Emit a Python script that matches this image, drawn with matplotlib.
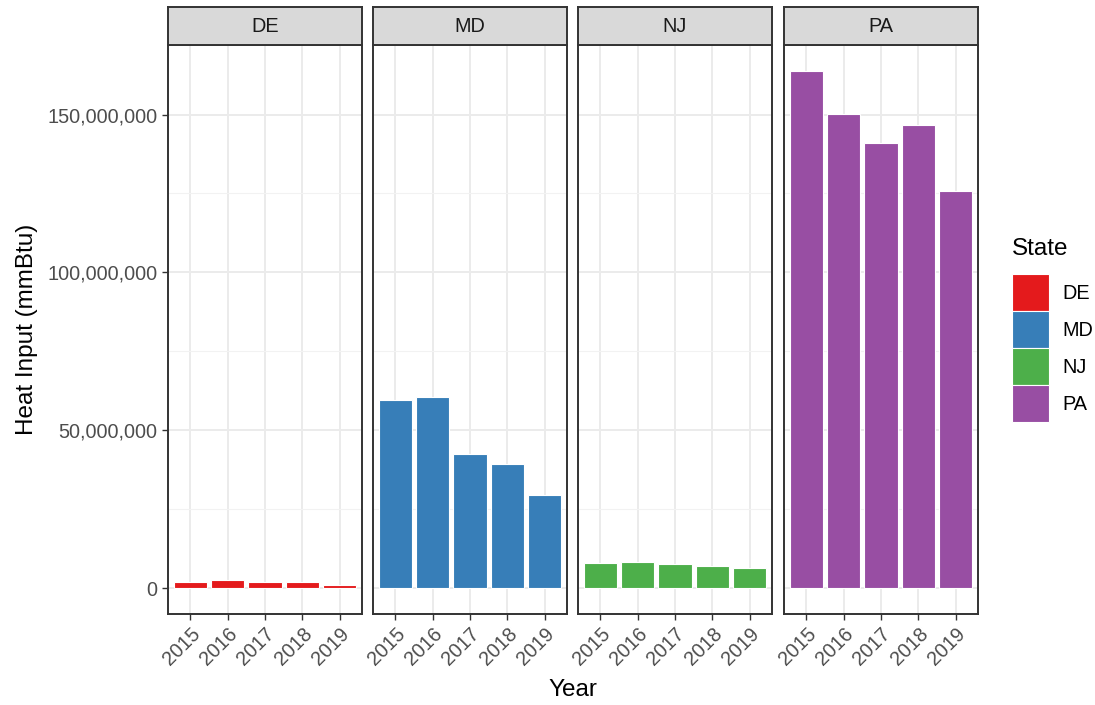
import numpy as np
import matplotlib
matplotlib.use('Agg')
import matplotlib.pyplot as plt
from matplotlib.ticker import FuncFormatter, MultipleLocator

plt.rcParams['font.family'] = ['Liberation Sans', 'DejaVu Sans']

# data
years = ['2015', '2016', '2017', '2018', '2019']
states = ['DE', 'MD', 'NJ', 'PA']
de = [2.1e6, 2.6e6, 2.1e6, 2.1e6, 1.0e6]
md = [59.7e6, 60.4e6, 42.4e6, 39.2e6, 29.6e6]
nj = [8.0e6, 8.4e6, 7.6e6, 6.9e6, 6.3e6]
pa = [163.7e6, 150.3e6, 140.9e6, 146.6e6, 125.9e6]
colors = ['#E41A1C', '#377EB8', '#4DAF4A', '#984EA3']

values = [de, md, nj, pa]
ymax = max(max(v) for v in values)

W, H = 1095, 705
fig = plt.figure(figsize=(W / 100, H / 100), dpi=100)

lefts = [168, 373, 578, 784]
pw = 194
top_px, bot_px, strip_top = 45.4, 614, 7

x = np.arange(len(years))
handles = []
for i, (st, vals, c) in enumerate(zip(states, values, colors)):
    ax = fig.add_axes([lefts[i] / W, (H - bot_px) / H, pw / W, (bot_px - top_px) / H])
    bars = ax.bar(x, vals, width=0.9, color=c, edgecolor='white', linewidth=0.8, zorder=3)
    handles.append(bars)
    ax.set_xlim(-0.6, len(years) - 0.4)
    ax.set_ylim(-0.05 * ymax, 1.05 * ymax)
    ax.yaxis.set_major_locator(MultipleLocator(50e6))
    ax.yaxis.set_minor_locator(MultipleLocator(25e6))
    ax.grid(True, which='major', color='#EBEBEB', linewidth=1.4, zorder=0)
    ax.grid(True, which='minor', axis='y', color='#F2F2F2', linewidth=0.8, zorder=0)
    ax.set_axisbelow(True)
    ax.set_xticks(x)
    ax.set_xticklabels(years, rotation=45, ha='right', rotation_mode='anchor',
                       fontsize=14.3, color='#4D4D4D')
    ax.tick_params(axis='x', length=4.5, width=1, color='#333333', pad=3)
    ax.tick_params(axis='y', which='minor', length=0)
    if i == 0:
        ax.yaxis.set_major_formatter(FuncFormatter(lambda v, p: f'{v:,.0f}'))
        ax.tick_params(axis='y', which='major', length=4.5, width=1,
                       color='#333333', labelsize=14.3, labelcolor='#4D4D4D', pad=3)
    else:
        ax.tick_params(axis='y', which='major', length=0, labelleft=False)
    for s in ax.spines.values():
        s.set_color('#333333')
        s.set_linewidth(1.4)

    # facet strip
    sax = fig.add_axes([lefts[i] / W, (H - top_px) / H, pw / W, (top_px - strip_top) / H])
    sax.set_facecolor('#D9D9D9')
    sax.set_xticks([])
    sax.set_yticks([])
    for s in sax.spines.values():
        s.set_color('#333333')
        s.set_linewidth(1.4)
    sax.text(0.5, 0.5, st, ha='center', va='center', fontsize=14.3,
             color='#1A1A1A', transform=sax.transAxes)

fig.text((lefts[0] + lefts[-1] + pw) / 2 / W, 1 - 690 / H, 'Year',
         ha='center', va='center', fontsize=17.5)
fig.text(27 / W, 1 - (top_px + bot_px) / 2 / H, 'Heat Input (mmBtu)',
         ha='center', va='center', rotation=90, fontsize=17.5)

leg = fig.legend(handles, states, loc='upper left',
                 bbox_to_anchor=(1012 / W, 1 - 238 / H),
                 title='State', frameon=False, fontsize=14.3,
                 title_fontsize=17.5, alignment='left',
                 handlelength=1.87, handleheight=2.5, labelspacing=0.0,
                 handletextpad=0.65, borderpad=0, borderaxespad=0)
# gap between legend title and keys
leg._legend_box.sep = 10

fig.savefig('out.png', dpi=100)
